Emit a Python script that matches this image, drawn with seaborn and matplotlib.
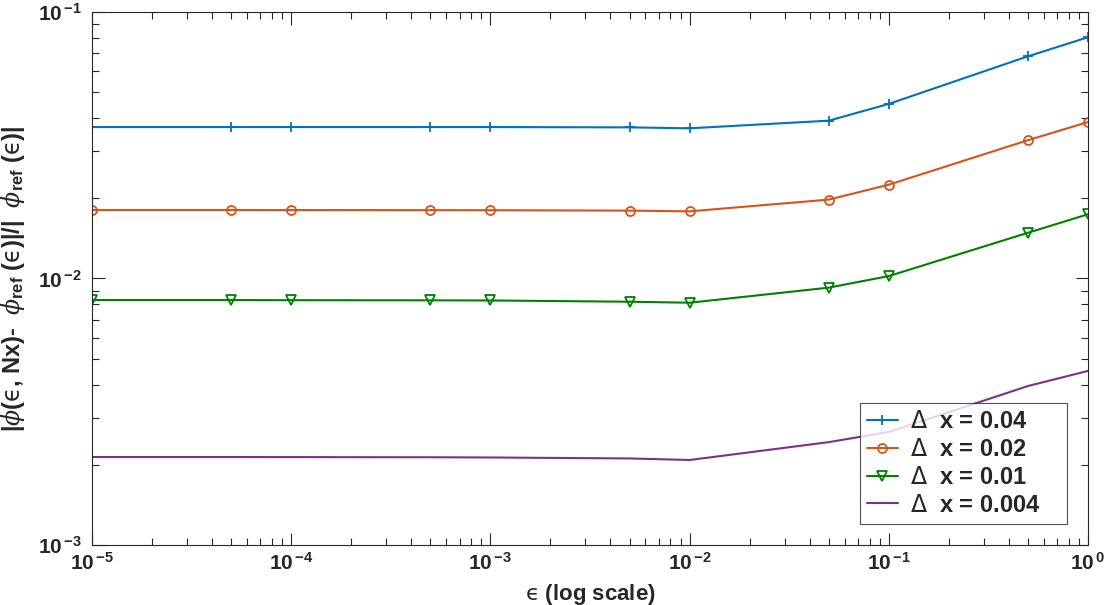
import numpy as np
import pandas as pd
import matplotlib
matplotlib.use("Agg")
import matplotlib.pyplot as plt
import seaborn as sns
from matplotlib.ticker import LogLocator, FixedLocator, NullFormatter

eps = [1e-5, 5e-5, 1e-4, 5e-4, 1e-3, 5e-3, 1e-2, 5e-2, 1e-1, 5e-1, 1.0]
err_004 = [0.0370, 0.0370, 0.0370, 0.0370, 0.0370, 0.0369, 0.0366, 0.0391, 0.0452, 0.0682, 0.0804]
err_002 = [0.01807, 0.01807, 0.01806, 0.01805, 0.01804, 0.01797, 0.01786, 0.01977, 0.02249, 0.03304, 0.03864]
err_001 = [0.00830, 0.00830, 0.00829, 0.00828, 0.00827, 0.00818, 0.00811, 0.00924, 0.01021, 0.01485, 0.01742]
err_0004 = [0.002138, 0.002138, 0.002137, 0.002134, 0.002130, 0.002112, 0.002084, 0.002432, 0.002655, 0.00395, 0.0045]
labels = [r"$\mathsf{\Delta}$  x = 0.04", r"$\mathsf{\Delta}$  x = 0.02",
          r"$\mathsf{\Delta}$  x = 0.01", r"$\mathsf{\Delta}$  x = 0.004"]
xtick_labels = [r'$\mathbf{10}^{\,\mathbf{-5}}$', r'$\mathbf{10}^{\,\mathbf{-4}}$', r'$\mathbf{10}^{\,\mathbf{-3}}$',
                r'$\mathbf{10}^{\,\mathbf{-2}}$', r'$\mathbf{10}^{\,\mathbf{-1}}$', r'$\mathbf{10}^{\,\mathbf{0}}$']
ytick_labels = [r'$\mathbf{10}^{\,\mathbf{-3}}$', r'$\mathbf{10}^{\,\mathbf{-2}}$', r'$\mathbf{10}^{\,\mathbf{-1}}$']

sns.set_style("ticks")
plt.rcParams['font.family'] = ['Liberation Sans', 'DejaVu Sans']
plt.rcParams['mathtext.fontset'] = 'custom'
plt.rcParams['mathtext.rm'] = 'Liberation Sans:bold'
plt.rcParams['mathtext.bf'] = 'Liberation Sans:bold'
plt.rcParams['mathtext.it'] = 'DejaVu Serif:italic'
plt.rcParams['mathtext.sf'] = 'DejaVu Sans'

EPS = '$\\mathsf{\u03f5}$'

fig = plt.figure(figsize=(11.08, 6.05), dpi=100)
ax = fig.add_axes([0.083, 0.0992, 0.899, 0.8810])

colors = ['#0072BD', '#D95319', '#008000', '#7E2F8E']
markers = ['+', 'o', 'v', None]
series = [err_004, err_002, err_001, err_0004]
for vals, c, m, lab in zip(series, colors, markers, labels):
    kw = dict(marker=m, markersize=6.5, markerfacecolor='none', markeredgecolor=c, markeredgewidth=1.3) if m else {}
    sns.lineplot(x=eps, y=vals, color=c, linewidth=1.5, label=lab + '    ', ax=ax, **kw)

ax.set_xscale('log')
ax.set_yscale('log')
ax.set_xlim(1e-5, 1)
ax.set_ylim(1e-3, 1e-1)

ax.xaxis.set_major_locator(FixedLocator([1e-5, 1e-4, 1e-3, 1e-2, 1e-1, 1]))
ax.set_xticklabels(xtick_labels)
ax.yaxis.set_major_locator(FixedLocator([1e-3, 1e-2, 1e-1]))
ax.set_yticklabels(ytick_labels)
ax.xaxis.set_minor_locator(LogLocator(base=10, subs=np.arange(2, 10), numticks=20))
ax.yaxis.set_minor_locator(LogLocator(base=10, subs=np.arange(2, 10), numticks=20))
ax.xaxis.set_minor_formatter(NullFormatter())
ax.yaxis.set_minor_formatter(NullFormatter())
ax.tick_params(which='both', direction='in', top=True, right=True, labelsize=15, color='#262626')
ax.tick_params(axis='y', which='major', pad=7)
ax.tick_params(axis='x', which='major', pad=5)
ax.tick_params(which='major', length=9, width=0.8)
ax.tick_params(which='minor', length=5, width=0.8)
for s in ax.spines.values():
    s.set_color('#262626')
    s.set_linewidth(0.8)

ax.set_xlabel(EPS + ' (log scale)', fontsize=16, fontweight='bold', labelpad=6)
ax.set_ylabel('|$\\phi$(' + EPS + ', Nx)-  $\\phi_{\\mathbf{ref}}$ (' + EPS + ')|/|  $\\phi_{\\mathbf{ref}}$ (' + EPS + ')|',
              fontsize=17, fontweight='bold', labelpad=8)

leg = ax.legend(loc='lower right', fontsize=17, frameon=True, fancybox=False,
                borderaxespad=0.9, handlelength=1.3, handletextpad=0.5,
                labelspacing=0.2, borderpad=0.3)
leg.get_frame().set_edgecolor('#262626')
leg.get_frame().set_linewidth(0.8)
for t in leg.get_texts():
    t.set_fontweight('bold')

fig.savefig('out.png', dpi=100)
